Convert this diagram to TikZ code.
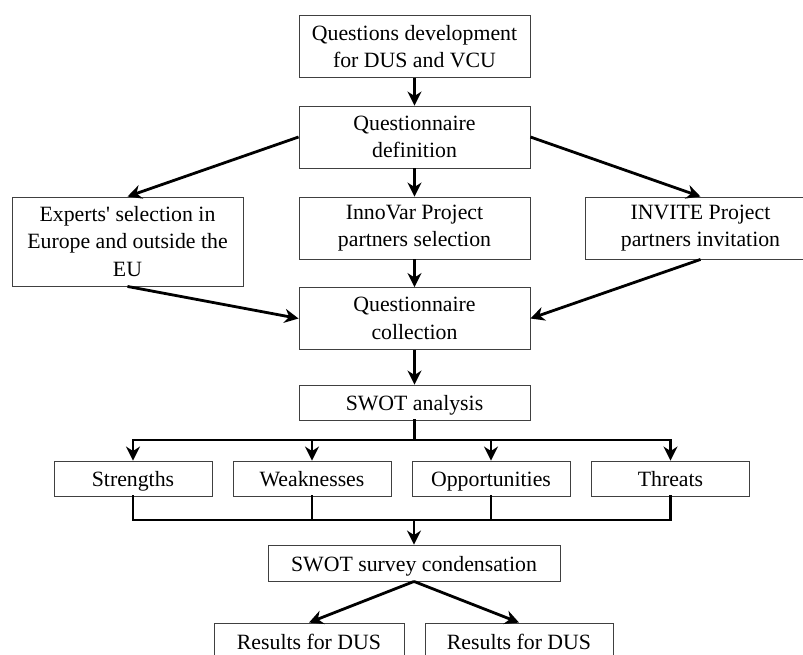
\documentclass[tikz,border=0pt]{standalone}
\usepackage{fontspec}
\setmainfont{Liberation Serif}
\usetikzlibrary{arrows.meta, positioning, calc}

\begin{document}
\begin{tikzpicture}[x=1pt, y=-1pt,
  box/.style={draw=black!75, line width=0.9pt, align=center, inner sep=0pt,
    minimum width=231pt, minimum height=62pt, font=\fontsize{21.8}{27.5}\selectfont},
  oneline/.style={box, minimum height=35pt, text height=18pt, text depth=1.5pt},
  flow/.style={-{Stealth[length=14pt, width=14pt, inset=4.5pt]}, line width=2.8pt},
  bus/.style={line width=2.8pt, line cap=rect}]
\clip (0,0) rectangle (803,654);

% Question design
\node[box] (dev) at (414.5,46.5) {Questions development\\for DUS and VCU};
\node[box] (qdef) at (414.5,137) {Questionnaire\\definition};
\draw[flow] (dev) -- (qdef);

% Three channels
\node[box, minimum height=89pt] (experts) at (127.5,241.5) {Experts\textquotesingle{} selection in\\Europe and outside the\\EU};
\node[box] (innovar) at (414.5,228) {InnoVar Project\\partners selection};
\node[box] (invite) at (700.5,228) {INVITE Project\\partners invitation};
\draw[flow] (qdef.west) -- (experts.north);
\draw[flow] (qdef.south) -- (innovar.north);
\draw[flow] (qdef.east) -- (invite.north);

% Collection
\node[box] (qcoll) at (414.5,318.5) {Questionnaire\\collection};
\draw[flow] (experts.south) -- (qcoll.west);
\draw[flow] (innovar.south) -- (qcoll.north);
\draw[flow] (invite.south) -- (qcoll.east);

\node[oneline] (swot) at (414.5,402.5) {SWOT analysis};
\draw[flow] (qcoll) -- (swot);

% SWOT parts
\node[oneline, minimum width=158pt] (str) at (133,478.5) {Strengths};
\node[oneline, minimum width=158pt] (weak) at (312,478.5) {Weaknesses};
\node[oneline, minimum width=158pt] (opp) at (491,478.5) {Opportunities};
\node[oneline, minimum width=158pt] (thr) at (670.5,478.5) {Threats};

\coordinate (split) at (414.5,440);
\coordinate (join) at (414,520);
\draw[bus] (swot.south) -- (split);
\draw[bus] (str.north |- split) -- (thr.north |- split);
\foreach \part in {str,weak,opp,thr}
  \draw[flow] (\part.north |- split) -- (\part.north);
\foreach \part in {str,weak,opp,thr}
  \draw[bus] (\part.south) -- (\part.south |- join);
\draw[bus] (str.south |- join) -- (thr.south |- join);

% Condensation and results
\node[oneline, minimum width=292pt, minimum height=36pt] (cond) at (414,563) {SWOT survey condensation};
\draw[flow] (join) -- (cond.north);

\node[oneline, minimum width=190pt, minimum height=36pt] (res1) at (309,641) {Results for DUS};
\node[oneline, minimum width=188pt, minimum height=36pt] (res2) at (519,641) {Results for DUS};
\draw[flow] (cond.south) -- (res1.north);
\draw[flow] (cond.south) -- (res2.north);

\end{tikzpicture}
\end{document}
